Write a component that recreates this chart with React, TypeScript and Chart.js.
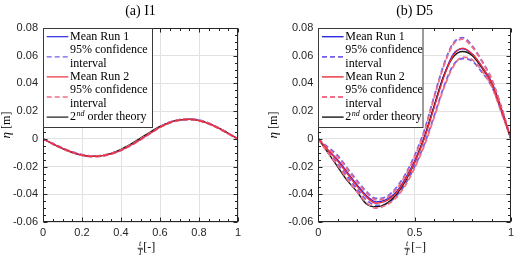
import React, { useEffect, useRef } from "react";
import { Chart, registerables } from "chart.js";

Chart.register(...registerables);

// ---------- data ----------
const T = [0, 0.05, 0.1, 0.15, 0.2, 0.25, 0.3, 0.35, 0.4, 0.45, 0.5, 0.55, 0.6, 0.65, 0.7, 0.75, 0.8, 0.85, 0.9, 0.95, 1];

// (a) I1
const I1_RUN1_MEAN = [0, -0.0035, -0.0068, -0.0096, -0.0116, -0.0125, -0.0122, -0.0107, -0.0081, -0.0045, -0.0003, 0.0042, 0.0085, 0.0118, 0.0137, 0.0142, 0.0133, 0.0111, 0.0078, 0.0039, 0];
const I1_RUN1_CI_HI = [0, -0.0031, -0.0064, -0.0092, -0.0112, -0.0121, -0.0118, -0.0103, -0.0077, -0.0041, 0.0001, 0.0046, 0.0089, 0.0122, 0.0141, 0.0146, 0.0137, 0.0115, 0.0082, 0.0043, 0];
const I1_RUN1_CI_LO = [0, -0.0039, -0.0072, -0.01, -0.012, -0.0129, -0.0126, -0.0111, -0.0085, -0.0049, -0.0007, 0.0038, 0.0081, 0.0114, 0.0133, 0.0138, 0.0129, 0.0107, 0.0074, 0.0035, 0];
const I1_RUN2_MEAN = [0, -0.0036, -0.0069, -0.0097, -0.0117, -0.0126, -0.0123, -0.0108, -0.0082, -0.0046, -0.0004, 0.0041, 0.0084, 0.0117, 0.0136, 0.0141, 0.0132, 0.011, 0.0077, 0.0038, 0];
const I1_RUN2_CI_HI = [0, -0.0032, -0.0065, -0.0093, -0.0113, -0.0122, -0.0119, -0.0104, -0.0078, -0.0042, 0, 0.0045, 0.0088, 0.0121, 0.014, 0.0145, 0.0136, 0.0114, 0.0081, 0.0042, 0];
const I1_RUN2_CI_LO = [0, -0.004, -0.0073, -0.0101, -0.0121, -0.013, -0.0127, -0.0112, -0.0086, -0.005, -0.0008, 0.0037, 0.008, 0.0113, 0.0132, 0.0137, 0.0128, 0.0106, 0.0073, 0.0034, 0];
const I1_THEORY = [0, -0.0037, -0.0071, -0.01, -0.0119, -0.0127, -0.0122, -0.0104, -0.0075, -0.0037, 0.0006, 0.005, 0.009, 0.012, 0.0137, 0.0141, 0.0132, 0.0111, 0.0079, 0.0041, 0];

// (b) D5
const D5_RUN1_MEAN = [0, -0.008, -0.015, -0.024, -0.033, -0.041, -0.0455, -0.044, -0.039, -0.029, -0.016, 0.001, 0.023, 0.045, 0.061, 0.065, 0.061, 0.052, 0.041, 0.022, 0];
const D5_RUN1_CI_HI = [0, -0.006, -0.012, -0.021, -0.03, -0.038, -0.043, -0.042, -0.036, -0.026, -0.012, 0.006, 0.03, 0.053, 0.069, 0.073, 0.067, 0.056, 0.043, 0.023, 0];
const D5_RUN1_CI_LO = [0, -0.009, -0.018, -0.027, -0.036, -0.044, -0.048, -0.047, -0.042, -0.033, -0.02, -0.004, 0.016, 0.037, 0.053, 0.058, 0.056, 0.048, 0.038, 0.02, 0];
const D5_RUN2_MEAN = [0, -0.008, -0.016, -0.025, -0.034, -0.042, -0.0465, -0.045, -0.04, -0.03, -0.017, 0, 0.022, 0.044, 0.06, 0.0655, 0.061, 0.052, 0.04, 0.021, 0];
const D5_RUN2_CI_HI = [0, -0.007, -0.013, -0.022, -0.031, -0.039, -0.044, -0.043, -0.037, -0.027, -0.013, 0.005, 0.029, 0.052, 0.068, 0.072, 0.066, 0.056, 0.043, 0.023, 0];
const D5_RUN2_CI_LO = [0, -0.01, -0.019, -0.029, -0.038, -0.046, -0.05, -0.048, -0.043, -0.034, -0.021, -0.005, 0.015, 0.036, 0.052, 0.059, 0.057, 0.049, 0.038, 0.019, 0];
const D5_THEORY = [0, -0.01, -0.02, -0.03, -0.038, -0.047, -0.049, -0.047, -0.041, -0.031, -0.017, 0.001, 0.023, 0.045, 0.059, 0.063, 0.06, 0.051, 0.04, 0.021, 0];

// ticks & labels
const Y_TICKS = [-0.06, -0.04, -0.02, 0, 0.02, 0.04, 0.06, 0.08];
const I1_X_TICKS = [0, 0.2, 0.4, 0.6, 0.8, 1];
const D5_X_TICKS = [0, 0.5, 1];
const I1_TITLE = "(a) I1";
const D5_TITLE = "(b) D5";
const LEGEND_MEAN_1 = "Mean Run 1";
const LEGEND_MEAN_2 = "Mean Run 2";
const LEGEND_CI = ["95% confidence", "interval"];
const LEGEND_THEORY = ["2", "nd", " order theory"];

// ---------- styles ----------
const BLUE = "rgb(45,40,225)";
const BLUE_CI = "rgb(115,95,235)";
const RED = "rgb(235,45,60)";
const RED_CI = "rgb(240,110,135)";
const BLACK = "#161616";
const AXIS = "#262626";
const GRID = "#e2e2e2";
const SERIF = '"Liberation Serif", "DejaVu Serif", serif';
const SANS = '"Liberation Sans", Arial, sans-serif';

type PanelCfg = {
  title: string;
  xTicks: number[];
  xMinor: number;
  run1: number[];
  run1Hi: number[];
  run1Lo: number[];
  run2: number[];
  run2Hi: number[];
  run2Lo: number[];
  theory: number[];
  yAxisWidth: number;
  padRight: number;
  legendW: number;
  yLabelX: number;
  fracX: number;
  unitX: number;
  unit: string;
  meanW: number;
  ciW: number;
};

const fmt = (v: number) => {
  if (Math.abs(v) < 1e-9) return "0";
  return String(+v.toFixed(2));
};

function fmtY(v: number) {
  if (Math.abs(v) < 1e-9) return "0";
  return v.toFixed(2);
}

function pts(ys: number[]) {
  return T.map((t, i) => ({ x: t, y: ys[i] }));
}

function line(data: number[], color: string, width: number, dash: number[] = []) {
  return {
    data: pts(data),
    borderColor: color,
    backgroundColor: color,
    borderWidth: width,
    borderDash: dash,
    pointRadius: 0,
    fill: false,
    cubicInterpolationMode: "monotone" as const,
  };
}

function makeDecor(p: PanelCfg) {
  return {
    id: "decor",
    afterDraw(chart: any) {
      const { ctx, chartArea: a, scales } = chart;
      const xs = scales.x;
      const ys = scales.y;
      ctx.save();
      const L = Math.round(a.left) + 0.5;
      const R = Math.round(a.right) - 0.5;
      const Tp = Math.round(a.top) + 0.5;
      const B = Math.round(a.bottom) - 0.5;

      // ticks (inside, all 4 sides)
      ctx.strokeStyle = AXIS;
      ctx.lineWidth = 1;
      ctx.beginPath();
      const nx = Math.round(1 / p.xMinor);
      for (let i = 0; i <= nx; i++) {
        const v = i * p.xMinor;
        const isMajor = p.xTicks.some((t) => Math.abs(t - v) < 1e-9);
        const len = isMajor ? 4 : 2.5;
        const x = Math.round(xs.getPixelForValue(v)) + 0.5;
        ctx.moveTo(x, B);
        ctx.lineTo(x, B - len);
        ctx.moveTo(x, Tp);
        ctx.lineTo(x, Tp + len);
      }
      const yMinor = 0.005;
      const ny = Math.round((0.08 + 0.06) / yMinor);
      for (let i = 0; i <= ny; i++) {
        const v = -0.06 + i * yMinor;
        const isMajor = Y_TICKS.some((t) => Math.abs(t - v) < 1e-9);
        const len = isMajor ? 4 : 2.5;
        const y = Math.round(ys.getPixelForValue(v)) + 0.5;
        ctx.moveTo(L, y);
        ctx.lineTo(L + len, y);
        ctx.moveTo(R, y);
        ctx.lineTo(R - len, y);
      }
      ctx.stroke();

      // box
      ctx.strokeStyle = AXIS;
      ctx.lineWidth = 1;
      ctx.strokeRect(L, Tp, R - L, B - Tp);

      // legend
      const lh = 99;
      ctx.fillStyle = "#fff";
      ctx.fillRect(L, Tp, p.legendW, lh);
      ctx.strokeStyle = "#3a3a3a";
      ctx.lineWidth = 1;
      ctx.strokeRect(L, Tp, p.legendW, lh);
      const row = (i: number) => a.top + 8.7 + i * 13.4;
      const lx0 = a.left + 3.7;
      const lx1 = a.left + 25.3;
      const tx = a.left + 27;
      const sample = (y: number, color: string, w: number, dash: number[]) => {
        ctx.save();
        ctx.strokeStyle = color;
        ctx.lineWidth = w;
        ctx.setLineDash(dash);
        ctx.beginPath();
        ctx.moveTo(lx0, y);
        ctx.lineTo(lx1, y);
        ctx.stroke();
        ctx.restore();
      };
      sample(row(0), BLUE, p.meanW, []);
      sample((row(1) + row(2)) / 2, BLUE_CI, p.ciW, [5, 3]);
      sample(row(3), RED, p.meanW, []);
      sample((row(4) + row(5)) / 2, RED_CI, p.ciW, [5, 3]);
      sample(row(6), BLACK, p.meanW, []);
      ctx.fillStyle = "#000";
      ctx.textBaseline = "middle";
      ctx.textAlign = "left";
      ctx.font = `12px ${SERIF}`;
      ctx.fillText(LEGEND_MEAN_1, tx, row(0));
      ctx.fillText(LEGEND_CI[0], tx, row(1));
      ctx.fillText(LEGEND_CI[1], tx, row(2));
      ctx.fillText(LEGEND_MEAN_2, tx, row(3));
      ctx.fillText(LEGEND_CI[0], tx, row(4));
      ctx.fillText(LEGEND_CI[1], tx, row(5));
      let cx = tx;
      ctx.fillText(LEGEND_THEORY[0], cx, row(6));
      cx += ctx.measureText(LEGEND_THEORY[0]).width;
      ctx.font = `italic 8px ${SERIF}`;
      ctx.fillText(LEGEND_THEORY[1], cx + 0.5, row(6) - 3.5);
      cx += ctx.measureText(LEGEND_THEORY[1]).width + 0.5;
      ctx.font = `12px ${SERIF}`;
      ctx.fillText(LEGEND_THEORY[2], cx, row(6));

      // title
      ctx.fillStyle = "#000";
      ctx.font = `14px ${SERIF}`;
      ctx.textAlign = "center";
      ctx.textBaseline = "middle";
      ctx.fillText(p.title, (a.left + a.right) / 2, 11.5);

      // y label
      ctx.save();
      ctx.translate(p.yLabelX, (a.top + a.bottom) / 2);
      ctx.rotate(-Math.PI / 2);
      ctx.font = `italic 13px ${SERIF}`;
      const w1 = ctx.measureText("η").width;
      ctx.font = `12px ${SERIF}`;
      const w2 = ctx.measureText(" [m]").width;
      const sx = -(w1 + w2) / 2;
      ctx.textAlign = "left";
      ctx.font = `italic 13px ${SERIF}`;
      ctx.fillText("η", sx, 0);
      ctx.font = `12px ${SERIF}`;
      ctx.fillText(" [m]", sx + w1, 0);
      ctx.restore();

      // x label: t/T fraction + unit
      ctx.fillStyle = "#000";
      ctx.font = `italic 8px ${SERIF}`;
      ctx.textAlign = "center";
      ctx.textBaseline = "middle";
      ctx.fillText("t", p.fracX, 244);
      ctx.fillText("T", p.fracX, 252.5);
      ctx.strokeStyle = "#000";
      ctx.lineWidth = 0.8;
      ctx.beginPath();
      ctx.moveTo(p.fracX - 2.6, 248.3);
      ctx.lineTo(p.fracX + 2.6, 248.3);
      ctx.stroke();
      ctx.font = `12px ${SERIF}`;
      ctx.textAlign = "left";
      ctx.fillText(p.unit, p.unitX, 248);

      ctx.restore();
    },
  };
}

function buildChart(canvas: HTMLCanvasElement, p: PanelCfg) {
  return new Chart(canvas, {
    type: "line",
    data: {
      datasets: [
        line(p.run2, RED, p.meanW),
        line(p.run2Hi, RED_CI, p.ciW, [5, 3]),
        line(p.run2Lo, RED_CI, p.ciW, [5, 3]),
        line(p.theory, BLACK, p.meanW),
        line(p.run1, BLUE, p.meanW),
        line(p.run1Hi, BLUE_CI, p.ciW, [5, 3]),
        line(p.run1Lo, BLUE_CI, p.ciW, [5, 3]),
      ] as any,
    },
    options: {
      animation: false,
      responsive: false,
      devicePixelRatio: 1,
      events: [],
      layout: { padding: { left: 0, right: p.padRight, top: 28, bottom: 0 } },
      plugins: {
        legend: { display: false },
        title: { display: false },
        tooltip: { enabled: false },
      },
      scales: {
        x: {
          type: "linear",
          min: 0,
          max: 1,
          afterBuildTicks: (s: any) => {
            s.ticks = p.xTicks.map((v) => ({ value: v }));
          },
          afterFit: (s: any) => {
            s.height = 34;
          },
          ticks: {
            padding: 4,
            maxRotation: 0,
            autoSkip: false,
            color: AXIS,
            font: { family: SANS, size: 11 },
            callback: (v: any) => fmt(Number(v)),
          },
          grid: { color: GRID, lineWidth: 1, drawTicks: false },
          border: { display: false },
        },
        y: {
          type: "linear",
          min: -0.06,
          max: 0.08,
          afterBuildTicks: (s: any) => {
            s.ticks = Y_TICKS.map((v) => ({ value: v }));
          },
          afterFit: (s: any) => {
            s.width = p.yAxisWidth;
          },
          ticks: {
            padding: 5,
            autoSkip: false,
            color: AXIS,
            font: { family: SANS, size: 11 },
            callback: (v: any) => fmtY(Number(v)),
          },
          grid: { color: GRID, lineWidth: 1, drawTicks: false },
          border: { display: false },
        },
      },
    } as any,
    plugins: [makeDecor(p)],
  });
}

const PANEL_A: PanelCfg = {
  title: I1_TITLE,
  xTicks: I1_X_TICKS,
  xMinor: 0.05,
  run1: I1_RUN1_MEAN,
  run1Hi: I1_RUN1_CI_HI,
  run1Lo: I1_RUN1_CI_LO,
  run2: I1_RUN2_MEAN,
  run2Hi: I1_RUN2_CI_HI,
  run2Lo: I1_RUN2_CI_LO,
  theory: I1_THEORY,
  yAxisWidth: 43,
  padRight: 21,
  legendW: 109,
  yLabelX: 7,
  fracX: 140.2,
  unitX: 143.3,
  unit: "[-]",
  meanW: 1.2,
  ciW: 1.3,
};

const PANEL_B: PanelCfg = {
  title: D5_TITLE,
  xTicks: D5_X_TICKS,
  xMinor: 0.1,
  run1: D5_RUN1_MEAN,
  run1Hi: D5_RUN1_CI_HI,
  run1Lo: D5_RUN1_CI_LO,
  run2: D5_RUN2_MEAN,
  run2Hi: D5_RUN2_CI_HI,
  run2Lo: D5_RUN2_CI_LO,
  theory: D5_THEORY,
  yAxisWidth: 59.3,
  padRight: 5,
  legendW: 104.5,
  yLabelX: 15,
  fracX: 148,
  unitX: 152.3,
  unit: "[\u2212]",
  meanW: 1.4,
  ciW: 1.8,
};

function Panel({ cfg, left }: { cfg: PanelCfg; left: number }) {
  const ref = useRef<HTMLCanvasElement | null>(null);
  useEffect(() => {
    if (!ref.current) return;
    const c = buildChart(ref.current, cfg);
    return () => c.destroy();
  }, [cfg]);
  return (
    <canvas
      ref={ref}
      width={259}
      height={256}
      style={{ position: "absolute", left, top: 0, width: 259, height: 256 }}
    />
  );
}

export default function App() {
  return (
    <div
      style={{
        position: "fixed",
        left: 0,
        top: 0,
        width: 518,
        height: 256,
        background: "#fff",
        overflow: "hidden",
      }}
    >
      <Panel cfg={PANEL_A} left={0} />
      <Panel cfg={PANEL_B} left={259} />
    </div>
  );
}
